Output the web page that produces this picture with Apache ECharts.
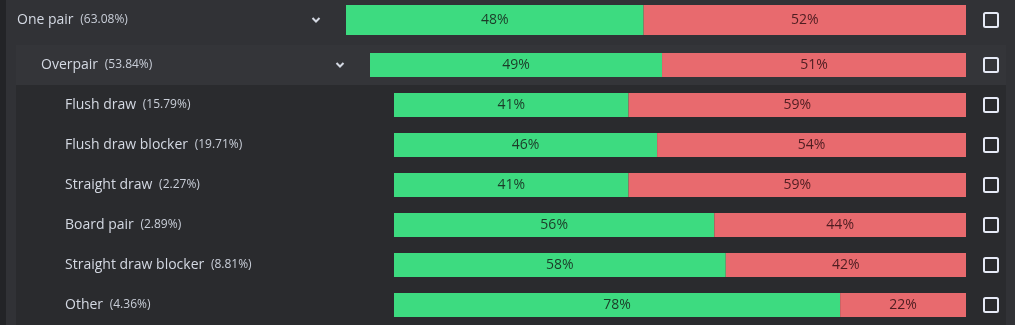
<!DOCTYPE html>
<html>
<head>
<meta charset="utf-8">
<script src="https://cdn.jsdelivr.net/npm/echarts@6/dist/echarts.min.js"></script>
<style>
html,body{margin:0;padding:0;background:#232427;}
#chart{width:1015px;height:325px;}
</style>
</head>
<body>
<div id="chart"></div>
<script>
// ---- data ----
const labels = ['One pair', 'Overpair', 'Flush draw', 'Flush draw blocker', 'Straight draw', 'Board pair', 'Straight draw blocker', 'Other'];
const shares = ['63.08%', '53.84%', '15.79%', '19.71%', '2.27%', '2.89%', '8.81%', '4.36%'];
const levels = [0, 1, 2, 2, 2, 2, 2, 2];
const winPct = [48, 49, 41, 46, 41, 56, 58, 78];
const losePct = [52, 51, 59, 54, 59, 44, 42, 22];

// ---- layout ----
const W = 1015, H = 325;
const levelLeft = [346, 370, 394];
const barRight = 966;
const levelTop = [0, 45, 85];
const levelHeight = [40, 40, 240];
const levelBarW = [30, 24, 24];
const labelMargin = 329;
const GREEN = '#3ddb80', RED = '#e86a6e';

const grids = [], xAxes = [], yAxes = [], series = [];
for (let lv = 0; lv < 3; lv++) {
  const idx = [];
  levels.forEach((l, i) => { if (l === lv) idx.push(i); });
  grids.push({ left: levelLeft[lv], right: W - barRight, top: levelTop[lv], height: levelHeight[lv] });
  xAxes.push({ gridIndex: lv, type: 'value', min: 0, max: 100, show: false });
  yAxes.push({
    gridIndex: lv, type: 'category', inverse: true,
    data: idx.map(i => labels[i]),
    axisLine: { show: false }, axisTick: { show: false }, splitLine: { show: false },
    axisLabel: {
      align: 'left', margin: labelMargin,
      formatter: (v, k) => '{n|' + v + '}  {p|(' + shares[idx[k]] + ')}',
      rich: {
        n: { fontFamily: 'Open Sans', fontSize: 14, color: '#d4d9e3' },
        p: { fontFamily: 'Open Sans', fontSize: 12, color: '#c9ced8' }
      }
    }
  });
  const lbl = (c) => ({ show: true, position: 'inside', formatter: '{c}%', color: c, fontFamily: 'Open Sans', fontSize: 14 });
  series.push({
    type: 'bar', stack: 's' + lv, xAxisIndex: lv, yAxisIndex: lv, barWidth: levelBarW[lv],
    data: idx.map(i => winPct[i]), itemStyle: { color: GREEN }, label: lbl('#1c3b28'), silent: true
  });
  series.push({
    type: 'bar', stack: 's' + lv, xAxisIndex: lv, yAxisIndex: lv, barWidth: levelBarW[lv],
    data: idx.map(i => losePct[i]), itemStyle: { color: RED }, label: lbl('#4e1d21'), silent: true
  });
}

// row centres derived from grid layout
const rowCenters = [];
for (let lv = 0; lv < 3; lv++) {
  const idx = [];
  levels.forEach((l, i) => { if (l === lv) idx.push(i); });
  const h = levelHeight[lv] / idx.length;
  idx.forEach((i, k) => { rowCenters[i] = levelTop[lv] + h * (k + 0.5); });
}

const graphic = [
  { type: 'rect', z: -10, shape: { x: 6, y: 0, width: W - 6, height: H }, style: { fill: '#313236' } },
  { type: 'rect', z: -9, shape: { x: 16, y: 45, width: 990, height: 40 }, style: { fill: '#343539' } },
  { type: 'rect', z: -9, shape: { x: 16, y: 85, width: 990, height: 240 }, style: { fill: '#2a2b2e' } }
];
rowCenters.forEach((cy, i) => {
  graphic.push({
    type: 'rect', z: 5,
    shape: { x: 984, y: Math.round(cy) - 7, width: 14, height: 14, r: 1.5 },
    style: { fill: 'none', stroke: '#e6eaf6', lineWidth: 2 }
  });
  if (levels[i] < 2) {
    const cx = levelLeft[levels[i]] - 30;
    graphic.push({
      type: 'polyline', z: 5,
      shape: { points: [[cx - 3.5, cy - 2], [cx, cy + 1.5], [cx + 3.5, cy - 2]] },
      style: { stroke: '#d4d9e3', lineWidth: 2, fill: 'none' }
    });
  }
});

const chart = echarts.init(document.getElementById('chart'), null, { renderer: 'canvas' });
chart.setOption({
  backgroundColor: '#232427',
  animation: false,
  grid: grids, xAxis: xAxes, yAxis: yAxes, series: series, graphic: graphic
});
</script>
</body>
</html>
